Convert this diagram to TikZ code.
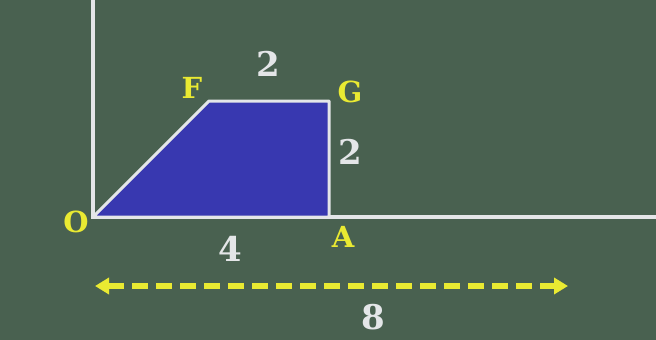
\documentclass[tikz,border=0pt]{standalone}
\usepackage{fontspec}
\setmainfont{DejaVu Serif}
\usetikzlibrary{arrows.meta}
\definecolor{tafel}{RGB}{73,97,80}
\definecolor{fuell}{RGB}{56,56,176}
\definecolor{gelb}{RGB}{234,234,50}
\definecolor{kreide}{RGB}{228,230,232}

\begin{document}
\begin{tikzpicture}[x=1pt, y=-1pt,
				punkt/.style={text=gelb, inner sep=0pt, font=\fontsize{29}{29}\selectfont\bfseries},
				masz/.style={text=kreide, inner sep=0pt, font=\fontsize{34}{34}\selectfont\bfseries},
				achse/.style={draw=kreide, line width=3.5pt},
				>={Triangle[length=14pt,width=16pt]}]
				%Hintergrund
				\fill[tafel] (0,0) rectangle (656,340);
				\useasboundingbox (0,0) rectangle (656,340);
				%Eckpunkte
				\coordinate (O) at (93,217);
				\coordinate (A) at (329,217);
				\coordinate (F) at (209,101);
				\coordinate (G) at (329,101);
				\coordinate (yEnde) at (93,0);
				\coordinate (xEnde) at (656,217);
				% Achsen zeichnen
				\draw[achse] (yEnde) -- (O) -- (xEnde);
				% Trapez
				\filldraw[fill=fuell, draw=kreide, line width=3pt, line join=round] (O) -- (F) -- (G) -- (A) -- cycle;
				% Punkte beschriften
				\node[punkt] (lO) at (76,222) {O};
				\node[punkt] (lF) at (192,88) {F};
				\node[punkt] (lG) at (350,92) {G};
				\node[punkt] (lA) at (343,237) {A};
				% Seitenlaengen
				\node[masz] (mFG) at (268,64) {2};
				\node[masz] (mGA) at (350,152) {2};
				\node[masz] (mOA) at (230,249) {4};
				% Doppelpfeil
				\coordinate (pL) at (95,286);
				\coordinate (pR) at (568,286);
				\draw[<->, gelb, line width=5.5pt, dash pattern=on 16pt off 8pt] (pL) -- (pR);
				\node[masz] (mGes) at (373,317) {8};
			\end{tikzpicture}
\end{document}
